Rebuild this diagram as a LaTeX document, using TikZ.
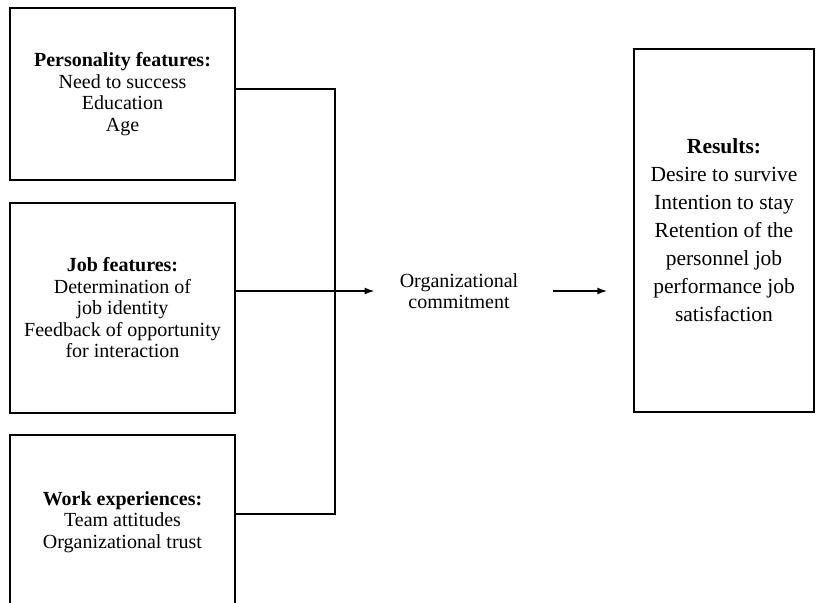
\documentclass[tikz,border=0pt]{standalone}
\usepackage{fontspec}
\setmainfont{Liberation Serif}
\usetikzlibrary{arrows.meta}
\begin{document}
\begin{tikzpicture}[x=1pt,y=-1pt,
  box/.style={draw, line width=1.5pt, align=center, inner sep=0pt},
  lefttext/.style={font=\fontsize{20}{21.5}\selectfont},
  restext/.style={font=\fontsize{21.5}{28}\selectfont},
  conn/.style={line width=1.5pt},
  arr/.style={line width=1.5pt, -{Latex[length=10pt,width=7pt]}}]
\useasboundingbox (0,0) rectangle (816,602);
\node[box, lefttext, minimum width=225pt, minimum height=172pt] (b1) at (122.5,94)
  {\textbf{Personality features:}\\Need to success\\Education\\Age};
\node[box, lefttext, minimum width=225pt, minimum height=210pt] (b2) at (122.5,308)
  {\textbf{Job features:}\\Determination of\\job identity\\Feedback of opportunity\\for interaction};
\node[box, lefttext, minimum width=225pt, minimum height=174pt] (b3) at (122.5,522)
  {\textbf{Work experiences:}\\Team attitudes\\Organizational trust};
\node[lefttext, align=center, inner sep=0pt] (oc) at (459,291)
  {Organizational\\commitment};
\node[box, restext, minimum width=180pt, minimum height=363pt] (res) at (724,230.5)
  {\textbf{Results:}\\Desire to survive\\Intention to stay\\Retention of the\\personnel job\\performance job\\satisfaction};
\coordinate (j1) at (335,89);
\coordinate (j3) at (335,514);
\draw[conn] (b1.east |- j1) -- (j1) -- (j3) -- (b3.east |- j3);
\draw[arr] (b2.east |- oc.center) -- ([xshift=-25pt]oc.west |- oc.center);
\draw[arr] ([xshift=35pt]oc.east |- oc.center) -- ([xshift=-26pt]res.west |- oc.center);
\end{tikzpicture}
\end{document}
